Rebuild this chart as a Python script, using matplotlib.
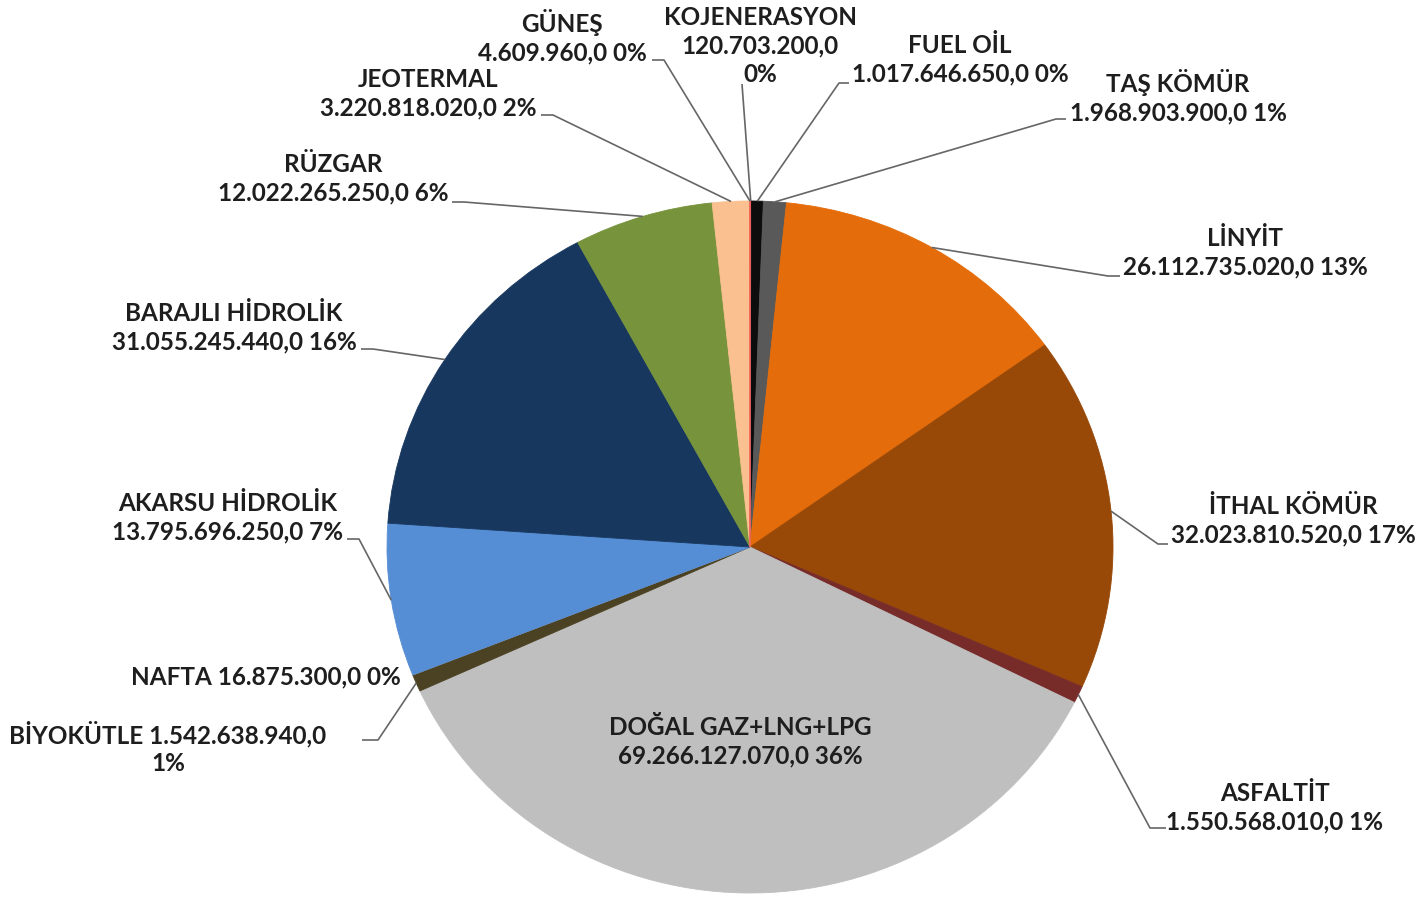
import numpy as np
import matplotlib
matplotlib.use("Agg")
import matplotlib.pyplot as plt

plt.rcParams['font.family'] = ['Lato', 'DejaVu Sans']

# ── data (clockwise from 12 o'clock) ─────────────────────────────────────
sources = ['KOJENERASYON', 'FUEL OİL', 'TAŞ KÖMÜR', 'LİNYİT', 'İTHAL KÖMÜR',
           'ASFALTİT', 'DOĞAL GAZ+LNG+LPG', 'BİYOKÜTLE', 'NAFTA',
           'AKARSU HİDROLİK', 'BARAJLI HİDROLİK', 'RÜZGAR', 'JEOTERMAL', 'GÜNEŞ']
values = [120703200.0, 1017646650.0, 1968903900.0, 26112735020.0,
          32023810520.0, 1550568010.0, 69266127070.0, 1542638940.0,
          16875300.0, 13795696250.0, 31055245440.0, 12022265250.0,
          3220818020.0, 4609960.0]
pct_labels = ['0%', '0%', '1%', '13%', '17%', '1%', '36%', '1%', '0%',
              '7%', '16%', '6%', '2%', '0%']
colors = ['#E0302F', '#0D0D0D', '#595959', '#E46C0A', '#984807', '#772C2A',
          '#BFBFBF', '#4B4123', '#7F7F7F', '#558ED5', '#17375E', '#77933C',
          '#FAC090', '#F0605A']

# label layout: text template, text centre, leader anchor, elbow (image px)
label_fmt = ['{n}\n{v}\n{p}', '{n}\n{v} {p}', '{n}\n{v} {p}', '{n}\n{v} {p}',
             '{n}\n{v} {p}', '{n}\n{v} {p}', '{n}\n{v} {p}', '{n} {v}\n{p}',
             '{n} {v} {p}', '{n}\n{v} {p}', '{n}\n{v} {p}', '{n}\n{v} {p}',
             '{n}\n{v} {p}', '{n}\n{v} {p}']
text_pos = [(760, 46), (960, 60), (1178, 97), (1245, 253), (1293, 521),
            (1275, 808), (740, 742), (168, 748), (266, 677), (228, 518),
            (234, 328), (333, 179), (428, 94), (562, 37)]
anchors = [((742, 84), (742, 84)), ((849, 83), (839, 83)),
           ((1066, 119), (1056, 119)), ((1120, 276), (1108, 276)),
           ((1168, 544), (1158, 544)), ((1166, 828), (1150, 828)),
           None, ((362, 740), (378, 740)), None,
           ((347, 539), (359, 539)), ((361, 349), (373, 349)),
           ((452, 202), (464, 202)), ((541, 115), (553, 115)),
           ((652, 60), (664, 60))]


def tr_number(v):
    s = format(v, ',.1f')
    return s.replace(',', 'X').replace('.', ',').replace('X', '.')


W, H = 1424, 898
cx, cy, rx, ry = 750, 547, 363, 346

fig = plt.figure(figsize=(W / 100, H / 100), dpi=100)
fig.patch.set_facecolor('white')

# pie (slightly wider than tall, like the source picture)
ax = fig.add_axes([(cx - rx) / W, (H - cy - ry) / H, 2 * rx / W, 2 * ry / H])
wedges, _ = ax.pie(values, colors=colors, startangle=90, counterclock=False,
                   radius=1, wedgeprops=dict(linewidth=0.6))
for w in wedges:
    w.set_edgecolor(w.get_facecolor())
ax.set_aspect('auto')
ax.set_xlim(-1, 1)
ax.set_ylim(-1, 1)
ax.axis('off')

# overlay in image pixel coordinates for labels and leader lines
ov = fig.add_axes([0, 0, 1, 1])
ov.set_xlim(0, W)
ov.set_ylim(H, 0)
ov.axis('off')

for i, name in enumerate(sources):
    txt = label_fmt[i].format(n=name, v=tr_number(values[i]), p=pct_labels[i])
    tx, ty = text_pos[i]
    ov.text(tx, ty, txt, ha='center', va='center', fontsize=17.5,
            fontweight='bold', color='#1E1E1E', linespacing=1.27)
    if anchors[i] is None:
        continue
    mid = np.deg2rad((wedges[i].theta1 + wedges[i].theta2) / 2)
    px = cx + rx * np.cos(mid)
    py = cy - ry * np.sin(mid)
    (ax0, ay0), (ex, ey) = anchors[i]
    ov.plot([ax0, ex, px], [ay0, ey, py], color='#666666', lw=1.2,
            solid_capstyle='butt')

plt.savefig('out.png', dpi=100, facecolor='white')
plt.close()
